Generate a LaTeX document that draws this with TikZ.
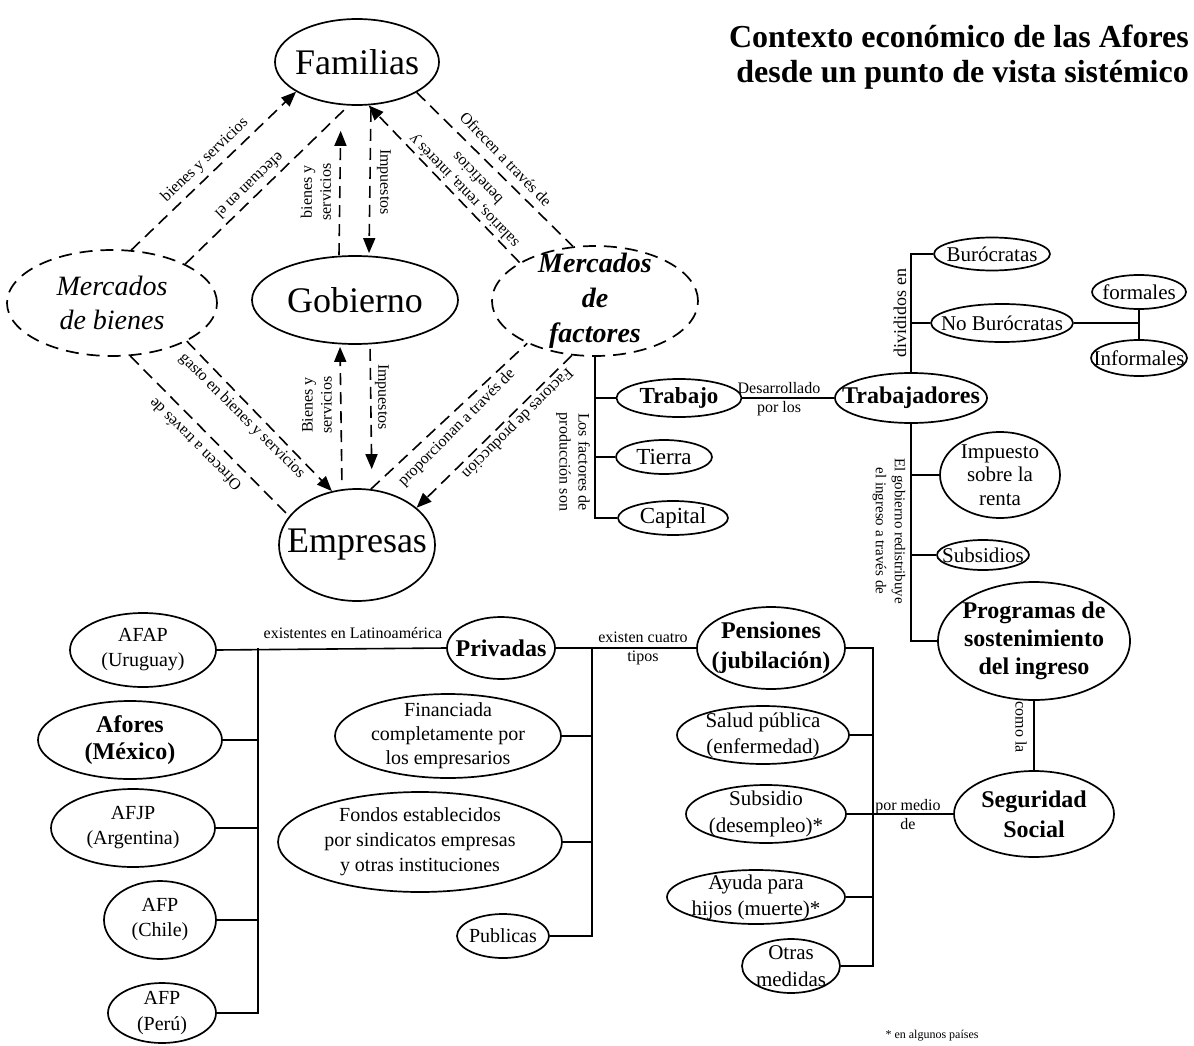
\documentclass[tikz,border=0pt]{standalone}
\usepackage{fontspec}
\setmainfont{Liberation Serif}
\usetikzlibrary{shapes.geometric,arrows.meta}

\begin{document}
\begin{tikzpicture}[x=1pt, y=-1pt,
    oval/.style={draw, ellipse, line width=1.7pt, inner sep=-60pt, align=center,
        font=\fontsize{21}{25}\selectfont},
    boldoval/.style={oval, font=\bfseries\fontsize{24}{28}\selectfont},
    bigoval/.style={oval, font=\fontsize{36}{40}\selectfont},
    market/.style={oval, dash pattern=on 13pt off 8pt, font=\itshape\fontsize{28}{34}\selectfont},
    lbl/.style={inner sep=0pt, align=center, font=\fontsize{16}{19}\selectfont},
    flow/.style={line width=1.6pt, dash pattern=on 12pt off 7pt},
    onto/.style={-{Triangle[length=15pt,width=12pt]}},
    link/.style={line width=1.6pt}]

    \useasboundingbox (0,0) rectangle (1194,1046);

    % Title
    \node[anchor=east, align=right, inner sep=0pt, font=\bfseries\fontsize{32}{35}\selectfont]
        (title) at (1189,57) {Contexto económico de las Afores\\desde un punto de vista sistémico};

    % Circular flow: households, government, firms and markets
    \node[bigoval, minimum width=164pt, minimum height=86pt] (familias) at (357,62) {Familias};
    \node[bigoval, minimum width=206pt, minimum height=88pt] (gobierno) at (355,300) {Gobierno};
    \node[bigoval, minimum width=156pt, minimum height=112pt] (empresas) at (357,545) {Empresas};
    \node[market, minimum width=210pt, minimum height=106pt] (mbienes) at (112,303) {Mercados\\de bienes};
    \node[market, minimum width=206pt, minimum height=110pt,
        font=\bfseries\itshape\fontsize{28}{35}\selectfont] (mfactores) at (595,301) {Mercados\\de\\factores};

    % Draw flows of the upper half
    \draw[flow, onto] (mbienes.70) -- (familias.206);
    \draw[flow] (mbienes.28) -- (familias.259);
    \draw[flow, onto, shorten >=25pt] ([xshift=-16pt]gobierno.north) -- ([xshift=-16pt]familias.south);
    \draw[flow, onto, shorten <=4pt, shorten >=2pt] ([xshift=14pt]familias.south) -- ([xshift=14pt]gobierno.north);
    \draw[flow] (familias.333) -- (mfactores.112);
    \draw[flow, onto] (mfactores.153) -- (familias.285);

    \node[lbl, rotate=44] (lBienesA) at (205,160) {bienes y servicios};
    \node[lbl, rotate=224] (lEfectuan) at (250,186) {efectuan en el};
    \node[lbl, rotate=90] (lBienesB) at (316,192) {bienes y\\servicios};
    \node[lbl, rotate=-90] (lImpA) at (384,182) {Impuestos};
    \node[lbl, rotate=-46] (lOfrecenA) at (506,159) {Ofrecen a través de};
    \node[lbl, rotate=134] (lSalarios) at (470,185) {salarios, renta, interés y\\beneficios};

    % Draw flows of the lower half
    \draw[flow, onto] (mbienes.333) -- (empresas.115);
    \draw[flow] (mbienes.289) -- (empresas.157);
    \draw[flow, onto, shorten <=8pt, shorten >=2pt] ([xshift=-15pt]empresas.north) -- ([xshift=-15pt]gobierno.south);
    \draw[flow, onto, shorten <=4pt, shorten >=19pt] ([xshift=15pt]gobierno.south) -- ([xshift=15pt]empresas.north);
    \draw[flow] (empresas.76) -- (mfactores.212);
    \draw[flow, onto] (mfactores.247) -- (empresas.32);

    \node[lbl, rotate=-45] (lGasto) at (242,416) {gasto en bienes y servicios};
    \node[lbl, rotate=135] (lOfrecenB) at (195,445) {Ofrecen a través de};
    \node[lbl, rotate=90] (lBienesC) at (317,405) {Bienes y\\servicios};
    \node[lbl, rotate=-90] (lImpB) at (382,397) {Impuestos};
    \node[lbl, rotate=45] (lProporcionan) at (457,428) {proporcionan a través de};
    \node[lbl, rotate=225] (lFactores) at (517,423) {Factores de producción};

    % Factors of production and workers
    \node[boldoval, minimum width=125pt, minimum height=38pt, font=\bfseries\fontsize{23}{26}\selectfont] (trabajo) at (679,398) {Trabajo};
    \node[oval, minimum width=96pt, minimum height=34pt, font=\fontsize{23}{26}\selectfont] (tierra) at (664,457) {Tierra};
    \node[oval, minimum width=110pt, minimum height=34pt, font=\fontsize{23}{26}\selectfont] (capital) at (673,518) {Capital};
    \node[boldoval, minimum width=152pt, minimum height=50pt] (trabajadores) at (911,398) {Trabajadores};
    \node[oval, minimum width=116pt, minimum height=33pt] (burocratas) at (992,254) {Burócratas};
    \node[oval, minimum width=142pt, minimum height=38pt] (noburocratas) at (1002,323) {No Burócratas};
    \node[oval, minimum width=94pt, minimum height=34pt] (formales) at (1139,292) {formales};
    \node[oval, minimum width=96pt, minimum height=36pt] (informales) at (1139,358) {Informales};
    \node[oval, minimum width=120pt, minimum height=86pt, font=\fontsize{21}{23.5}\selectfont] (impuesto) at (1000,475) {Impuesto\\sobre la\\renta};
    \node[oval, minimum width=92pt, minimum height=30pt] (subsidios) at (983,555) {Subsidios};
    \node[boldoval, minimum width=192pt, minimum height=118pt] (programas) at (1034,641) {Programas de\\sostenimiento\\del ingreso};
    \node[boldoval, minimum width=160pt, minimum height=86pt, font=\bfseries\fontsize{24}{30}\selectfont] (seguridad) at (1034,814) {Seguridad\\Social};

    \draw[link] (mfactores.south) |- (capital.west);
    \draw[link] (mfactores.south |- trabajo.west) -- (trabajo.west);
    \draw[link] (mfactores.south |- tierra.west) -- (tierra.west);
    \node[lbl, rotate=-90] (lFactoresSon) at (573,462) {Los factores de\\producción son};

    \draw[link] (trabajo.east) -- (trabajadores.west);
    \node[lbl] (lDesarrollado) at (779,399) {Desarrollado\\por los};

    \draw[link] (trabajadores.north) |- (burocratas.west);
    \draw[link] (trabajadores.north |- noburocratas.west) -- (noburocratas.west);
    \node[lbl, rotate=90, font=\fontsize{18}{20}\selectfont] (lDivididos) at (900,313) {divididos en};
    \draw[link] (noburocratas.east) -- (noburocratas.east -| formales.south);
    \draw[link] (formales.south) -- (informales.north);

    \draw[link] (trabajadores.south) |- (programas.west);
    \draw[link] (trabajadores.south |- impuesto.west) -- (impuesto.west);
    \draw[link] (trabajadores.south |- subsidios.west) -- (subsidios.west);
    \node[lbl, rotate=-90, font=\fontsize{15}{19}\selectfont] (lGobierno) at (889,531) {El gobierno redistribuye\\el ingreso a través de};
    \draw[link] (programas.south) -- (seguridad.north);
    \node[lbl, rotate=-90] (lComo) at (1021,727) {como la};

    % Social security programmes
    \node[boldoval, minimum width=148pt, minimum height=82pt, font=\bfseries\fontsize{24}{30}\selectfont] (pensiones) at (771,648) {Pensiones\\(jubilación)};
    \node[oval, minimum width=172pt, minimum height=58pt, font=\fontsize{21}{26}\selectfont] (salud) at (763,735) {Salud pública\\(enfermedad)};
    \node[oval, minimum width=160pt, minimum height=58pt, font=\fontsize{21}{27}\selectfont] (subsidio) at (766,814) {Subsidio\\(desempleo)*};
    \node[oval, minimum width=178pt, minimum height=54pt, font=\fontsize{21}{26}\selectfont] (ayuda) at (756,897) {Ayuda para\\hijos (muerte)*};
    \node[oval, minimum width=98pt, minimum height=54pt, font=\fontsize{21}{27}\selectfont] (otras) at (791,966) {Otras\\medidas};

    \coordinate (pBar) at (873,648);
    \draw[link] (pensiones.east) -- (pBar) |- (otras.east);
    \foreach \n in {salud,ayuda}
        \draw[link] (pBar |- \n.east) -- (\n.east);
    \draw[link] (subsidio.east) -- (seguridad.west);
    \node[lbl] (lPorMedio) at (908,815) {por medio\\de};

    % Private funds
    \node[boldoval, minimum width=108pt, minimum height=62pt] (privadas) at (501,648) {Privadas};
    \node[oval, minimum width=226pt, minimum height=84pt, font=\fontsize{20}{24}\selectfont] (financiada) at (448,736) {Financiada\\completamente por\\los empresarios};
    \node[oval, minimum width=284pt, minimum height=100pt, font=\fontsize{20}{25}\selectfont] (fondos) at (420,842) {Fondos establecidos\\por sindicatos empresas\\y otras instituciones};
    \node[oval, minimum width=92pt, minimum height=44pt, font=\fontsize{20}{24}\selectfont] (publicas) at (503,936) {Publicas};

    \draw[link] (privadas.east) -- (pensiones.west);
    \node[lbl] (lCuatro) at (643,648) {existen cuatro\\tipos};
    \coordinate (mBar) at (592,648);
    \draw[link] (mBar) |- (publicas.east);
    \foreach \n in {financiada,fondos}
        \draw[link] (mBar |- \n.east) -- (\n.east);

    % Administrators in Latin America
    \node[oval, minimum width=146pt, minimum height=74pt, font=\fontsize{20}{25}\selectfont] (afap) at (143,650) {AFAP\\(Uruguay)};
    \node[boldoval, minimum width=184pt, minimum height=78pt, font=\bfseries\fontsize{24}{27}\selectfont] (afores) at (130,740) {Afores\\(México)};
    \node[oval, minimum width=164pt, minimum height=78pt, font=\fontsize{20}{25}\selectfont] (afjp) at (133,828) {AFJP\\(Argentina)};
    \node[oval, minimum width=112pt, minimum height=78pt, font=\fontsize{20}{25}\selectfont] (afpchile) at (160,920) {AFP\\(Chile)};
    \node[oval, minimum width=108pt, minimum height=60pt, font=\fontsize{20}{26}\selectfont] (afpperu) at (162,1013) {AFP\\(Perú)};

    \draw[link] (afap.east) -- (privadas.west);
    \node[lbl] (lExistentes) at (353,633) {existentes en Latinoamérica};
    \coordinate (aBar) at (258,648);
    \draw[link] (aBar) |- (afpperu.east);
    \foreach \n in {afores,afjp,afpchile}
        \draw[link] (aBar |- \n.east) -- (\n.east);

    % Footnote
    \node[inner sep=0pt, font=\fontsize{12}{14}\selectfont] (nota) at (932,1036) {* en algunos países};

\end{tikzpicture}
\end{document}
